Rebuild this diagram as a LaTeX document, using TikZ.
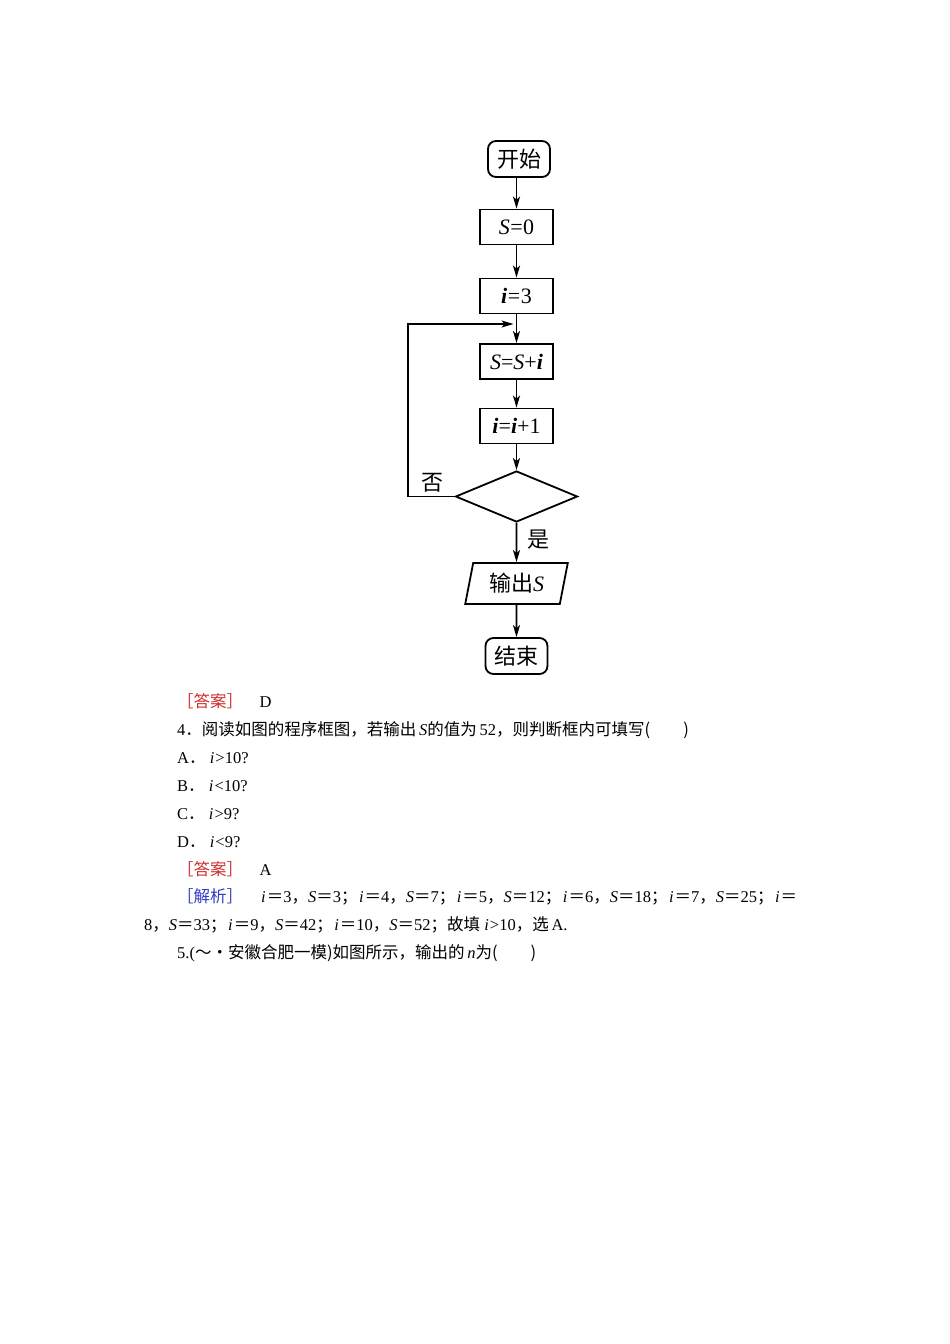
\documentclass[tikz,border=0pt]{standalone}
\usepackage{fontspec}
\setmainfont{Liberation Serif}
\newfontfamily\cjk{Noto Sans CJK SC}
\usetikzlibrary{arrows.meta,shapes.geometric}
\definecolor{ansred}{RGB}{205,45,45}
\definecolor{ansblue}{RGB}{50,60,200}
\newcommand{\C}[1]{{\cjk #1}}
\newcommand{\bi}{\textbf{\textit{i}}}
\newcommand{\vi}{\kern1.5pt\textit{i}\kern1pt}
\newcommand{\vS}{\textit{S}}
\newcommand{\eq}{\C{＝}}
\begin{document}
\begin{tikzpicture}[x=1pt,y=-1pt,
  every node/.style={font=\fontsize{22}{26}\selectfont},
  term/.style={draw,line width=1.8pt,rounded corners=8pt,minimum width=62pt,minimum height=36pt,inner sep=0pt},
  proc/.style={draw,line width=1.8pt,minimum width=73pt,minimum height=35pt,inner sep=0pt},
  arr/.style={line width=1.7pt,-{Stealth[length=12pt,width=7pt,inset=3pt]}},
  txt/.style={anchor=west,inner sep=0pt,text height=12pt,text depth=3pt,font=\fontsize{16.5}{20}\selectfont}]
\useasboundingbox[fill=white] (0,0) rectangle (950,1344);
% flowchart
\node[term] (start) at (519,159) {\C{开始}};
\node[proc] (s0) at (516.5,227) {\vS\kern0.5pt=\kern0.5pt0};
\node[proc] (i3) at (516.5,296) {\bi\kern0.5pt=\kern0.5pt3};
\node[proc] (ss) at (516.5,361.5) {\vS=\vS+\bi};
\node[proc] (ii) at (516.5,426) {\bi=\bi+1};
\node[draw,diamond,line width=1.8pt,minimum width=122pt,minimum height=51pt,inner sep=0pt,shape aspect=2.39] (dec) at (516.5,496.5) {};
\node[draw,trapezium,trapezium left angle=76,trapezium right angle=104,trapezium stretches=true,line width=1.8pt,minimum width=103pt,minimum height=41pt,inner sep=0pt] (out) at (516.5,583.5) {\C{输出}\vS};
\node[term] (end) at (516.5,656) {\C{结束}};
\coordinate (join) at (516.5,324);
\coordinate (c1) at (408,496.5);
\coordinate (c2) at (408,324);
\draw[arr] (start.south -| s0) -- (s0.north);
\draw[arr] (s0) -- (i3);
\draw[line width=1.7pt] (i3.south) -- (join);
\draw[arr] (join) -- (ss.north);
\draw[arr] (ss) -- (ii);
\draw[arr] (ii.south) -- (dec.north);
\draw[arr] (dec.south) -- (out.north);
\draw[arr] (out.south) -- (end.north);
\draw[arr] (dec.west) -- (c1) -- (c2) -- ([xshift=-3pt]join);
\node (no) at (432,483) {\C{否}};
\node (yes) at (538,540) {\C{是}};
% text
\node[txt] (t1) at (177,703) {\textcolor{ansred}{\C{［答案］}}\quad D};
\node[txt] (t2) at (177,731) {4\C{．阅读如图的程序框图，若输出}\,\vS\C{的值为}\,52\C{，则判断框内可填写(　　)}};
\node[txt] (t3) at (177,759) {A\C{．}\,\vi>10?};
\node[txt] (t4) at (177,787) {B\C{．}\,\vi<10?};
\node[txt] (t5) at (177,815) {C\C{．}\,\vi>9?};
\node[txt] (t6) at (177,843) {D\C{．}\,\vi<9?};
\node[txt] (t7) at (177,871) {\textcolor{ansred}{\C{［答案］}}\quad A};
\node[txt] (t8) at (177,898) {\textcolor{ansblue}{\C{［解析］}}\quad \vi\eq3\C{，}\vS\eq3\C{；}\vi\eq4\C{，}\vS\eq7\C{；}\vi\eq5\C{，}\vS\eq12\C{；}\vi\eq6\C{，}\vS\eq18\C{；}\vi\eq7\C{，}\vS\eq25\C{；}\vi\eq};
\node[txt] (t9) at (144,926) {8\C{，}\vS\eq33\C{；}\vi\eq9\C{，}\vS\eq42\C{；}\vi\eq10\C{，}\vS\eq52\C{；故填}\,\vi>10\C{，选}\,A.};
\node[txt] (t10) at (177,954) {5.(\C{～・安徽合肥一模)如图所示，输出的}\,\textit{n}\C{为(　　)}};
\end{tikzpicture}
\end{document}
